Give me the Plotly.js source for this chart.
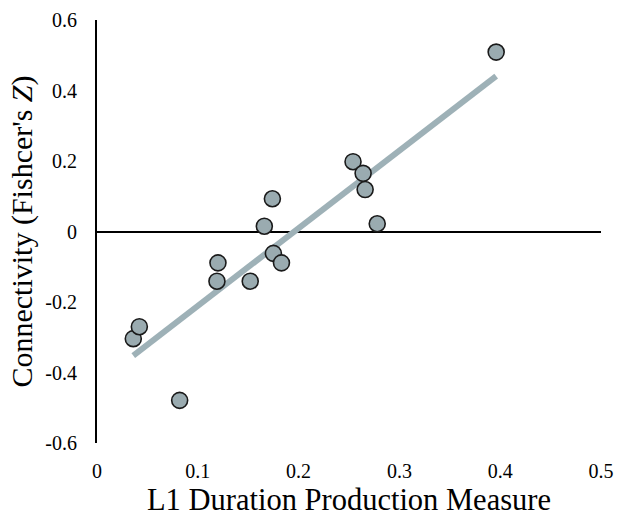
<!DOCTYPE html>
<html>
<head>
<meta charset="utf-8">
<script src="https://cdn.plot.ly/plotly-3.0.1.min.js"></script>
<style>html,body{margin:0;padding:0;background:#fff;}#chart{width:617px;height:519px;}</style>
</head>
<body>
<div id="chart"></div>
<script>
// Data
const durationX = [0.036, 0.042, 0.082, 0.119, 0.120, 0.152, 0.166, 0.174, 0.175, 0.183, 0.254, 0.264, 0.266, 0.278, 0.396];
const connectivityY = [-0.304, -0.270, -0.479, -0.141, -0.089, -0.141, 0.015, 0.093, -0.062, -0.089, 0.198, 0.165, 0.119, 0.022, 0.509];
const trendX = [0.036, 0.396];
const trendY = [-0.352, 0.441];
const xTicks = [0, 0.1, 0.2, 0.3, 0.4, 0.5];
const xTickLabels = ["0", "0.1", "0.2", "0.3", "0.4", "0.5"];
const yTicks = [-0.6, -0.4, -0.2, 0, 0.2, 0.4, 0.6];
const yTickLabels = ["-0.6", "-0.4", "-0.2", "0", "0.2", "0.4", "0.6"];

const serif = "'Liberation Serif', 'Times New Roman', serif";

const traces = [
  {
    x: trendX, y: trendY, type: "scatter", mode: "lines",
    line: {color: "#9eb1b7", width: 6},
    hoverinfo: "skip", showlegend: false
  },
  {
    x: durationX, y: connectivityY, type: "scatter", mode: "markers",
    marker: {size: 16, color: "#9aabb0", line: {color: "#1a1a1a", width: 1.6}},
    hoverinfo: "x+y", showlegend: false
  }
];

const layout = {
  width: 617, height: 519,
  margin: {l: 97, r: 16, t: 20, b: 76},
  paper_bgcolor: "#fff", plot_bgcolor: "#fff",
  font: {family: serif, color: "#000", size: 20},
  xaxis: {
    range: [0, 0.5], tickvals: xTicks, ticktext: xTickLabels,
    showgrid: false, zeroline: false, showline: false,
    ticks: "outside", ticklen: 10, tickcolor: "rgba(0,0,0,0)",
    tickfont: {family: serif, size: 20, color: "#000"},
    title: {text: "L1 Duration Production Measure", font: {family: serif, size: 30.5, color: "#000"}, standoff: 7}
  },
  yaxis: {
    range: [-0.6, 0.6], tickvals: yTicks, ticktext: yTickLabels,
    showgrid: false, showline: true, linecolor: "#000", linewidth: 2,
    zeroline: true, zerolinecolor: "#000", zerolinewidth: 2,
    ticks: "outside", ticklen: 14, tickcolor: "rgba(0,0,0,0)",
    tickfont: {family: serif, size: 20, color: "#000"},
    title: {text: "Connectivity (Fishcer's <i>Z</i>)", font: {family: serif, size: 30, color: "#000"}, standoff: 4}
  }
};

Plotly.newPlot("chart", traces, layout, {displayModeBar: false, staticPlot: true});
</script>
</body>
</html>
